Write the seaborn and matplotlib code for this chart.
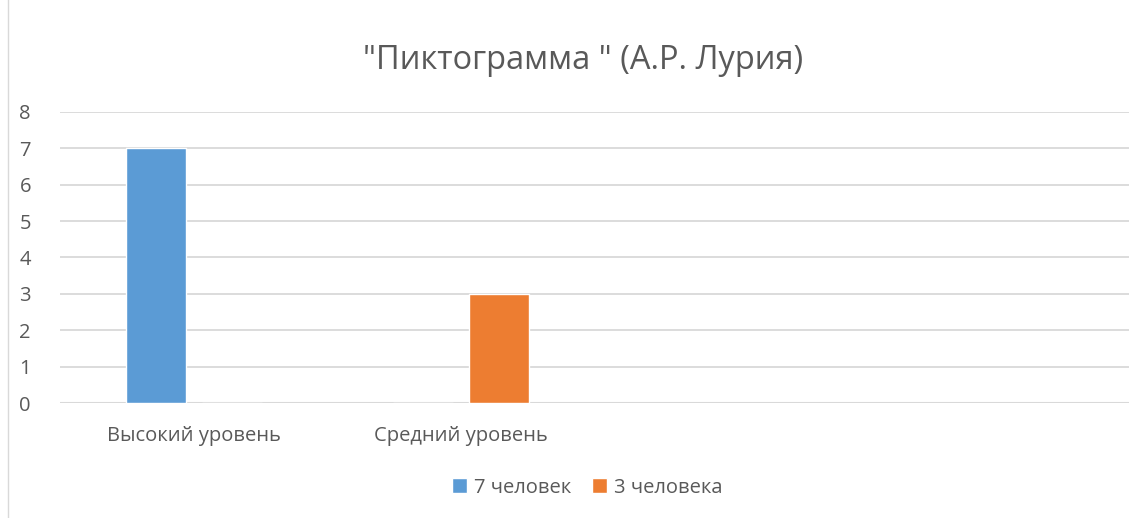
import pandas as pd
import numpy as np
import seaborn as sns
from matplotlib import pyplot as plt
from matplotlib.patches import Rectangle

# data
categories = ["Высокий уровень", "Средний уровень"]
series_names = ["7 человек", "3 человека"]
vals_7 = [7, 0]
vals_3 = [0, 3]
title = "\"Пиктограмма \" (А.Р. Лурия)"

df = pd.DataFrame({
    "cat": categories * 2,
    "series": [series_names[0]] * 2 + [series_names[1]] * 2,
    "value": vals_7 + vals_3,
})

sns.set_style("white")
plt.rcParams['font.family'] = ['Open Sans', 'DejaVu Sans']
txt = "#595959"

fig = plt.figure(figsize=(11.46, 5.18), dpi=100)
ax = fig.add_axes([0.0524, 0.2214, 0.9328, 0.563])

sns.barplot(data=df, x="cat", y="value", hue="series", order=categories,
            hue_order=series_names, palette=["#5B9BD5", "#ED7D31"],
            width=0.57, gap=0.21, saturation=1, ax=ax, legend=True)

ax.set_xlim(-0.5, 3.5)
ax.set_ylim(0, 8)
ax.set_yticks(range(0, 9))
ax.yaxis.grid(True, color="#D9D9D9", linewidth=1.3)
ax.set_axisbelow(True)
for s in ax.spines.values():
    s.set_visible(False)
ax.axhline(0, color="#D9D9D9", linewidth=1.5, zorder=0)
ax.set_xlabel("")
ax.set_ylabel("")
ax.tick_params(axis="both", length=0, labelsize=14.5, labelcolor=txt)
ax.tick_params(axis="y", pad=21)
ax.tick_params(axis="x", pad=16)
ax.set_xticks([0, 1])
ax.set_xticklabels(categories)

leg = ax.legend(loc="center", bbox_to_anchor=(0.493, -0.29), ncol=2,
                frameon=False, fontsize=14.5, handlelength=0.75, handleheight=0.75,
                handletextpad=0.35, columnspacing=1.0)
for t in leg.get_texts():
    t.set_color(txt)

fig.text(0.509, 0.883, title, ha="center", va="center", fontsize=23.5, color=txt)

fig.patches.append(Rectangle((8 / 1146, -0.01), 1.2, 1.2, transform=fig.transFigure,
                             fill=False, edgecolor="#D9D9D9", linewidth=1))

plt.savefig("out.png", dpi=100)
